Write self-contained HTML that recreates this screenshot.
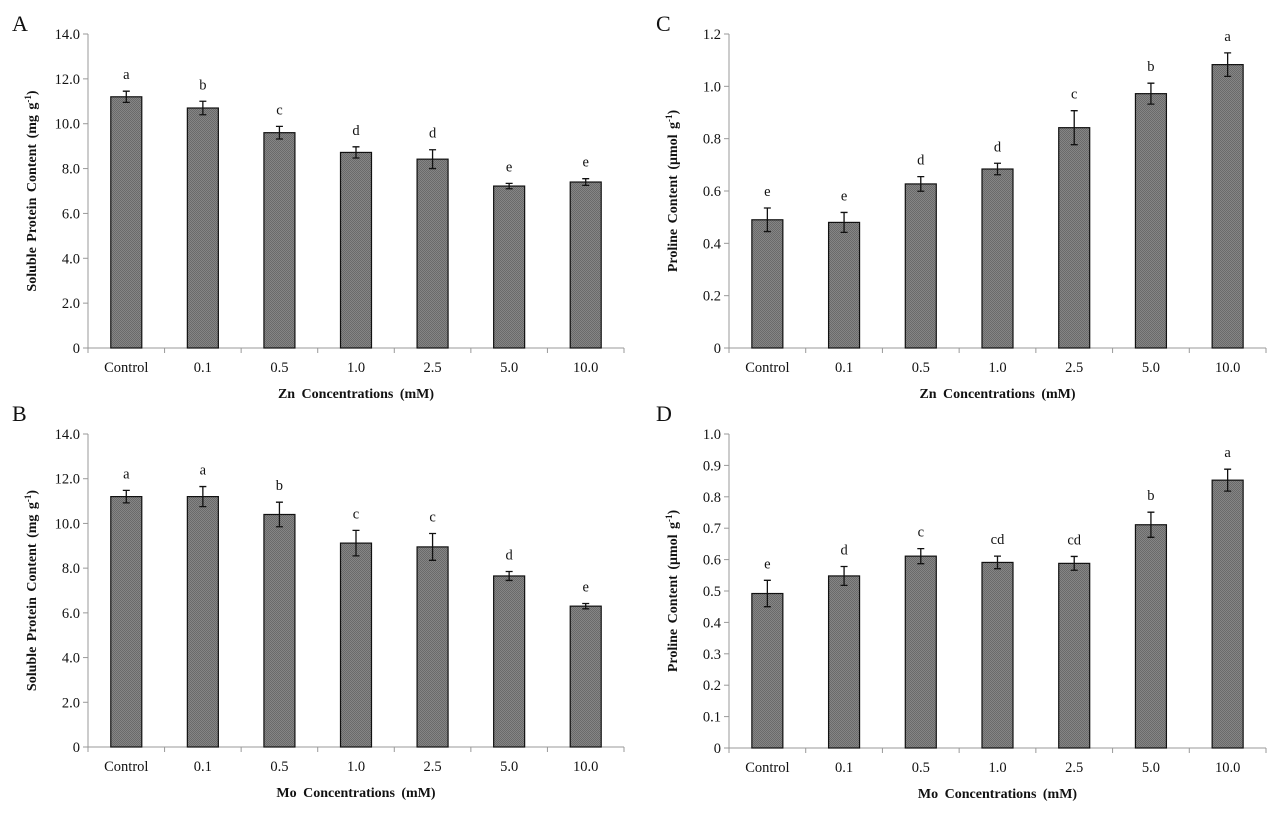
<!DOCTYPE html>
<html><head><meta charset="utf-8">
<style>
html,body{margin:0;padding:0;background:#fff;}
svg{display:block;font-family:"Liberation Serif",serif;}
</style></head>
<body>
<svg id="fig" width="1279" height="815" viewBox="0 0 1279 815" xmlns="http://www.w3.org/2000/svg"></svg>
<script>
const categories = ["Control","0.1","0.5","1.0","2.5","5.0","10.0"];
const valuesA = [11.2,10.7,9.6,8.72,8.42,7.22,7.4];
const errorsA = [0.25,0.3,0.28,0.25,0.42,0.12,0.15];
const lettersA = ["a","b","c","d","d","e","e"];
const valuesB = [11.2,11.2,10.4,9.12,8.95,7.65,6.3];
const errorsB = [0.28,0.45,0.55,0.57,0.6,0.2,0.12];
const lettersB = ["a","a","b","c","c","d","e"];
const valuesC = [0.49,0.48,0.627,0.684,0.842,0.972,1.083];
const errorsC = [0.045,0.038,0.028,0.022,0.065,0.04,0.045];
const lettersC = ["e","e","d","d","c","b","a"];
const valuesD = [0.492,0.548,0.611,0.591,0.588,0.711,0.853];
const errorsD = [0.042,0.03,0.024,0.02,0.022,0.04,0.035];
const lettersD = ["e","d","c","cd","cd","b","a"];
const ticksSP = [0,2,4,6,8,10,12,14];
const ticksPC = [0,0.2,0.4,0.6,0.8,1.0,1.2];
const ticksPD = [0,0.1,0.2,0.3,0.4,0.5,0.6,0.7,0.8,0.9,1.0];

const svg = document.getElementById('fig');
const NS = "http://www.w3.org/2000/svg";
function mk(tag, attrs, parent){
  const e = document.createElementNS(NS, tag);
  for (const k in attrs) e.setAttribute(k, attrs[k]);
  (parent||svg).appendChild(e);
  return e;
}
const defs = mk('defs',{});
const pat = mk('pattern',{id:'hatch',width:2,height:2,patternUnits:'userSpaceOnUse'},defs);
mk('rect',{width:2,height:2,fill:'#858585'},pat);
mk('rect',{width:1,height:1,fill:'#6a6a6a'},pat);
mk('rect',{x:1,y:1,width:1,height:1,fill:'#6a6a6a'},pat);

function panel(opt){
  const g = mk('g',{});
  
  
  const {x0,x1,yTop,yBot,max,ticks,values,errors,letters,fmt} = opt;
  const ys = v => yBot - (v/max)*(yBot-yTop);
  const cw = (x1-x0)/categories.length;
  const xs = i => x0 + cw*(i+0.5);
  const ya = mk('line',{x1:x0,y1:yTop,x2:x0,y2:yBot,stroke:'#999','stroke-width':1},g);
   
  const xa = mk('line',{x1:x0,y1:yBot,x2:x1,y2:yBot,stroke:'#999','stroke-width':1},g);
   
  ticks.forEach(t=>{
    const y = ys(t);
    mk('line',{x1:x0-5,y1:y,x2:x0,y2:y,stroke:'#999'},g);
    const tx = mk('text',{x:x0-8,y:y+5,'text-anchor':'end','font-size':14.5,fill:'#111'},g);
    tx.textContent = t===0 ? '0' : fmt(t);
    
    
  });
  for (let i=0;i<=categories.length;i++){
    const x = x0+cw*i;
    mk('line',{x1:x,y1:yBot,x2:x,y2:yBot+5,stroke:'#999'},g);
  }
  categories.forEach((c,i)=>{
    const cx = xs(i);
    const bw = 31;
    const b = mk('rect',{x:cx-bw/2,y:ys(values[i]),width:bw,height:yBot-ys(values[i]),fill:'url(#hatch)',stroke:'#111','stroke-width':1.2},g);
    
    
    const et = ys(values[i]+errors[i]), eb = ys(values[i]-errors[i]);
    const eg = mk('path',{d:`M${cx},${et}V${eb}M${cx-3.5},${et}H${cx+3.5}M${cx-3.5},${eb}H${cx+3.5}`,stroke:'#111','stroke-width':1.3,fill:'none'},g);
    
    
    const lt = mk('text',{x:cx,y:et-12,'text-anchor':'middle','font-size':14.5,fill:'#111'},g);
    lt.textContent = letters[i];
    
    
    const cl = mk('text',{x:cx,y:yBot+24,'text-anchor':'middle','font-size':14.5,fill:'#111'},g);
    cl.textContent = c;
    
    
  });
  const xt = mk('text',{x:(x0+x1)/2,y:yBot+50,'text-anchor':'middle','font-size':14,'font-weight':'bold',fill:'#111','word-spacing':3},g);
  xt.textContent = opt.xTitle;
  
  
  const yc = (yTop+yBot)/2, yx = x0-52;
  const yt = mk('text',{x:yx,y:yc,'text-anchor':'middle','font-size':14,'font-weight':'bold',fill:'#111',transform:`rotate(-90 ${yx} ${yc})`,'word-spacing':2},g);
  yt.innerHTML = opt.yTitle;
  
  
  const pl = mk('text',{x:opt.lx,y:opt.ly,'font-size':22,fill:'#111'},g);
  pl.textContent = opt.letter;
  
  
}
const f1 = v=>v.toFixed(1);
const spT = 'Soluble Protein Content (mg g<tspan baseline-shift="super" font-size="9">-1</tspan>)';
const prT = 'Proline Content (μmol g<tspan baseline-shift="super" font-size="9">-1</tspan>)';
panel({name:'panel-a',letter:'A',lx:12,ly:31,x0:88,x1:624,yTop:34,yBot:348,max:14,ticks:ticksSP,values:valuesA,errors:errorsA,letters:lettersA,fmt:f1,xTitle:'Zn Concentrations (mM)',yTitle:spT});
panel({name:'panel-b',letter:'B',lx:12,ly:421,x0:88,x1:624,yTop:434,yBot:747,max:14,ticks:ticksSP,values:valuesB,errors:errorsB,letters:lettersB,fmt:f1,xTitle:'Mo Concentrations (mM)',yTitle:spT});
panel({name:'panel-c',letter:'C',lx:656,ly:31,x0:729,x1:1266,yTop:34,yBot:348,max:1.2,ticks:ticksPC,values:valuesC,errors:errorsC,letters:lettersC,fmt:f1,xTitle:'Zn Concentrations (mM)',yTitle:prT});
panel({name:'panel-d',letter:'D',lx:656,ly:421,x0:729,x1:1266,yTop:434,yBot:748,max:1.0,ticks:ticksPD,values:valuesD,errors:errorsD,letters:lettersD,fmt:f1,xTitle:'Mo Concentrations (mM)',yTitle:prT});
</script>
</body></html>
